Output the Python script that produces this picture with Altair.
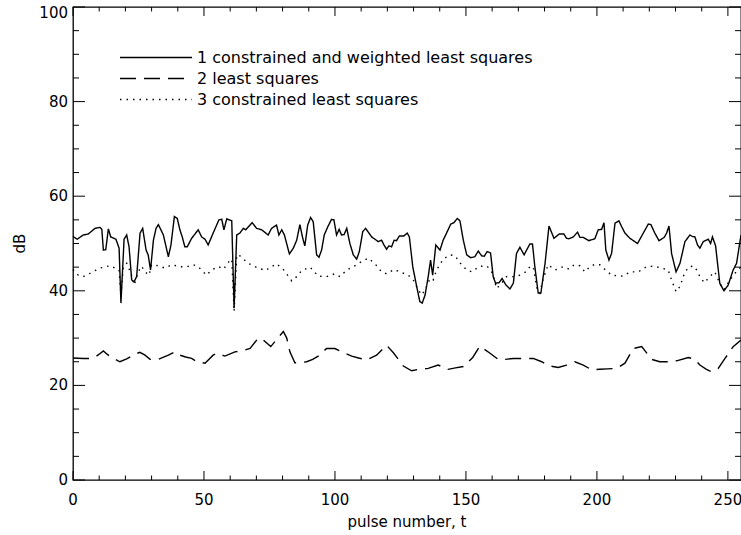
import altair as alt
import pandas as pd

labels = ["1 constrained and weighted least squares", "2 least squares", "3 constrained least squares"]

# series 1: constrained and weighted least squares
t1 = [0.0, 1.6, 3.9, 5.8, 8.4, 10.3, 11.0, 11.6, 12.5, 13.5, 14.4, 16.4, 17.6, 18.3, 19.5, 20.5, 21.4, 22.4, 23.3, 24.3,
      25.6, 26.6, 27.9, 28.7, 29.6, 30.7, 31.7, 32.6, 34.5, 36.4, 37.4, 38.7, 39.8, 40.8, 41.7, 42.7, 43.6, 45.3, 47.8, 49.1,
      50.4, 51.6, 53.5, 55.7, 56.8, 57.6, 58.7, 60.6, 61.0, 61.5, 62.5, 63.7, 65.0, 65.9, 68.4, 70.1, 72.0, 74.5, 75.8, 77.7,
      78.6, 79.7, 80.7, 82.6, 84.1, 85.4, 86.6, 87.7, 88.5, 89.6, 90.7, 91.7, 93.0, 93.9, 94.9, 95.9, 97.4, 98.7, 99.6, 100.6,
      101.6, 102.5, 103.5, 104.5, 105.7, 107.0, 108.3, 109.3, 110.6, 111.7, 114.0, 115.3, 116.5, 117.8, 118.7, 119.7, 120.6, 121.6, 122.6, 123.5,
      124.6, 126.3, 127.6, 128.4, 129.7, 131.2, 132.4, 133.3, 134.4, 135.6, 136.5, 137.3, 138.5, 140.1, 141.3, 142.6, 144.2, 145.4, 146.7, 147.7,
      149.0, 150.3, 151.8, 153.4, 154.7, 156.0, 157.0, 158.1, 159.4, 160.4, 161.3, 162.6, 163.8, 165.3, 166.8, 168.1, 169.3, 170.6, 172.2, 174.4,
      175.4, 176.3, 177.6, 178.6, 180.2, 181.7, 183.6, 185.6, 187.4, 188.4, 189.3, 191.0, 192.6, 193.5, 194.8, 196.9, 199.2, 200.5, 201.8, 202.7,
      203.4, 204.6, 205.6, 206.9, 208.4, 209.4, 210.7, 212.6, 215.5, 217.7, 219.6, 220.6, 222.1, 223.7, 225.7, 226.6, 227.5, 228.5, 230.2, 231.7,
      233.6, 235.5, 236.4, 237.4, 238.4, 239.3, 240.6, 242.5, 243.4, 244.1, 245.3, 246.9, 248.5, 250.1, 252.0, 253.3, 255.0]
db1 = [51.5, 50.9, 51.8, 52.0, 53.2, 53.4, 53.0, 48.6, 48.7, 53.1, 51.4, 50.9, 49.0, 37.4, 50.9, 51.8, 49.3, 42.3, 41.9, 43.0,
       52.2, 53.2, 48.6, 47.6, 44.4, 50.7, 53.2, 54.0, 51.8, 47.2, 49.7, 55.7, 55.3, 52.9, 51.4, 49.3, 49.3, 51.1, 52.9, 51.4,
       50.9, 49.7, 52.2, 55.0, 55.1, 52.9, 55.2, 54.8, 46.5, 36.3, 51.8, 52.2, 53.2, 52.9, 54.4, 53.2, 52.9, 51.8, 53.2, 53.9,
       51.8, 52.9, 51.8, 47.8, 49.0, 50.7, 54.0, 51.1, 49.5, 53.9, 55.5, 54.6, 47.6, 47.1, 48.6, 51.8, 53.7, 55.1, 55.0, 51.8,
       53.0, 51.8, 51.9, 53.2, 50.0, 47.6, 46.7, 48.3, 52.5, 53.2, 51.4, 50.9, 50.4, 50.7, 49.7, 48.8, 49.5, 49.3, 50.7, 50.6,
       51.6, 51.6, 52.2, 51.4, 45.1, 40.9, 37.7, 37.4, 39.1, 43.0, 46.5, 43.3, 49.7, 48.6, 50.7, 52.2, 54.1, 54.4, 55.3, 54.8,
       50.7, 47.6, 47.0, 47.2, 48.4, 47.4, 47.3, 48.3, 48.0, 43.0, 41.6, 41.7, 42.6, 41.2, 40.4, 41.6, 47.9, 49.2, 47.6, 49.9,
       49.9, 45.1, 39.5, 39.5, 45.8, 53.7, 51.1, 52.0, 52.0, 51.1, 51.0, 51.4, 52.4, 51.3, 51.3, 50.6, 51.0, 52.9, 53.0, 54.4,
       48.6, 46.5, 47.9, 54.3, 54.8, 53.6, 52.2, 51.1, 50.0, 52.2, 54.1, 54.0, 52.2, 50.6, 51.3, 52.2, 53.7, 47.9, 44.0, 45.8,
       50.4, 51.8, 51.5, 51.4, 49.7, 49.0, 50.4, 50.9, 50.0, 51.4, 49.5, 41.6, 40.0, 41.2, 44.4, 45.8, 51.8]

# series 2: least squares
t2 = [0.0, 3.9, 6.5, 8.5, 10.0, 11.6, 13.0, 14.7, 17.9, 20.5, 23.7, 25.5, 27.5, 29.4, 32.6, 36.4, 38.9, 40.8, 43.0, 45.3,
      47.2, 50.4, 53.5, 54.8, 58.0, 61.8, 64.5, 67.6, 70.7, 72.6, 75.5, 78.6, 80.3, 81.6, 82.8, 84.7, 87.0, 89.2, 91.5, 93.6,
      96.8, 100.0, 102.5, 106.4, 109.0, 112.1, 115.9, 119.7, 122.3, 126.1, 129.3, 132.0, 135.6, 139.4, 143.2, 146.0, 149.0, 152.6, 155.3, 159.2,
      162.3, 165.0, 168.1, 172.5, 175.7, 178.9, 182.1, 185.2, 188.4, 191.6, 194.8, 198.0, 201.1, 204.0, 207.5, 210.7, 213.9, 217.1, 220.9, 224.0,
      227.2, 230.4, 234.9, 237.4, 239.3, 241.8, 243.7, 246.3, 248.9, 252.0, 255.0]
db2 = [25.8, 25.7, 25.7, 26.0, 26.6, 27.3, 26.6, 25.9, 25.0, 25.6, 26.6, 27.0, 26.4, 25.5, 25.5, 26.4, 27.1, 26.4, 26.0, 25.7,
       25.0, 24.7, 26.4, 26.8, 26.2, 27.1, 27.3, 27.8, 30.0, 29.6, 28.2, 30.3, 31.4, 30.0, 27.1, 24.8, 24.8, 25.0, 25.5, 26.2,
       27.8, 27.8, 27.1, 26.2, 25.8, 25.4, 26.4, 28.5, 26.9, 24.1, 23.1, 23.4, 23.6, 24.3, 23.4, 23.7, 24.0, 25.9, 28.3, 26.8,
       25.5, 25.5, 25.7, 25.7, 25.7, 25.0, 24.1, 23.8, 24.3, 25.0, 24.3, 23.3, 23.4, 23.5, 23.6, 24.7, 27.8, 28.2, 25.5, 25.0,
       25.0, 25.2, 25.9, 25.5, 24.3, 23.4, 22.9, 23.6, 25.7, 28.2, 29.6]

# series 3: constrained least squares
t3 = [0.0, 0.8, 2.0, 3.9, 6.5, 10.3, 14.1, 17.6, 18.3, 19.2, 20.5, 22.1, 23.4, 24.9, 26.2, 27.5, 29.0, 30.0, 32.6, 35.1,
      37.7, 40.8, 43.5, 45.9, 47.8, 49.7, 51.0, 52.9, 55.5, 57.6, 58.7, 60.6, 61.5, 62.5, 63.7, 66.9, 70.7, 73.5, 75.8, 77.7,
      80.3, 82.2, 83.5, 85.4, 87.3, 90.5, 93.6, 96.8, 100.0, 101.9, 104.5, 107.0, 110.2, 112.7, 115.3, 117.8, 119.7, 122.6, 124.8, 128.0,
      129.9, 131.8, 133.1, 134.4, 136.3, 137.5, 138.8, 141.3, 143.9, 145.8, 148.3, 150.3, 152.2, 155.3, 158.1, 160.2, 161.7, 163.6, 165.5, 168.1,
      170.6, 172.9, 174.4, 175.7, 177.2, 178.2, 179.5, 181.4, 184.0, 187.2, 189.3, 191.3, 193.5, 195.4, 197.3, 199.2, 201.1, 203.1, 205.6, 207.5,
      210.0, 212.6, 215.8, 218.9, 221.8, 224.7, 227.2, 228.5, 230.2, 231.7, 233.6, 235.5, 237.4, 239.3, 241.0, 243.1, 245.0, 246.9, 248.5, 250.8,
      252.7, 255.0]
db3 = [44.5, 44.0, 43.3, 43.0, 43.7, 44.8, 45.3, 44.4, 39.0, 45.0, 45.8, 43.7, 41.2, 44.0, 45.2, 44.0, 43.3, 45.5, 45.3, 44.8,
       45.5, 45.1, 45.1, 45.5, 45.1, 44.0, 43.3, 44.4, 45.1, 44.6, 45.7, 46.7, 35.6, 47.6, 47.4, 45.8, 44.8, 44.3, 45.1, 45.7,
       44.5, 43.1, 42.1, 43.0, 44.3, 45.0, 43.1, 43.0, 43.6, 43.0, 44.4, 45.1, 46.2, 46.9, 45.7, 44.0, 43.6, 44.5, 44.0, 43.3,
       42.3, 40.2, 39.1, 40.2, 42.6, 42.3, 44.4, 46.7, 47.6, 47.4, 45.5, 44.4, 44.0, 45.2, 45.2, 43.7, 40.5, 41.6, 43.0, 43.0,
       43.3, 44.0, 45.1, 45.1, 40.2, 39.5, 42.6, 45.5, 44.4, 45.1, 44.6, 45.5, 45.3, 44.0, 45.1, 45.6, 45.5, 44.5, 43.3, 43.2,
       43.1, 44.0, 44.0, 45.1, 45.2, 44.8, 44.4, 42.3, 39.8, 40.9, 44.0, 45.2, 45.1, 43.0, 41.7, 43.0, 44.0, 41.6, 40.2, 42.3,
       43.7, 45.1]

x_major = [0, 50, 100, 150, 200, 250]
x_minor = [v for v in range(0, 251, 10) if v % 50]
y_major = [0, 20, 40, 60, 80, 100]
y_minor = [v for v in range(0, 101, 5) if v % 20]
x_title = "pulse number, t"
y_title = "dB"

df = pd.concat([
    pd.DataFrame({"t": t1, "db": db1, "series": labels[0]}),
    pd.DataFrame({"t": t2, "db": db2, "series": labels[1]}),
    pd.DataFrame({"t": t3, "db": db3, "series": labels[2]}),
], ignore_index=True)

W, H = 668, 473
FONT = "DejaVu Sans"
xs = alt.Scale(domain=[0, 255], nice=False, zero=False)
ys = alt.Scale(domain=[0, 100], nice=False, zero=False)


def xticks(values, y0, y1):
    return alt.Chart(pd.DataFrame({"v": values})).mark_rule(color="black", strokeWidth=1).encode(
        x=alt.X("v:Q", scale=xs, axis=None), y=alt.value(y0), y2=alt.value(y1))


def yticks(values, x0, x1):
    return alt.Chart(pd.DataFrame({"v": values})).mark_rule(color="black", strokeWidth=1).encode(
        y=alt.Y("v:Q", scale=ys, axis=None), x=alt.value(x0), x2=alt.value(x1))


tick_layers = [
    xticks(x_major, H, H - 9), xticks(x_minor, H, H - 4.5),
    xticks(x_major, 0, 9), xticks(x_minor, 0, 4.5),
    yticks(y_major, 0, 12), yticks(y_minor, 0, 6),
    yticks(y_major, W, W - 12), yticks(y_minor, W, W - 6),
]

# axis labels and titles as text marks
x_lab = alt.Chart(pd.DataFrame({"v": x_major, "lab": [str(v) for v in x_major]})).mark_text(
    font=FONT, fontSize=15, color="black", align="center", baseline="middle").encode(
    x=alt.X("v:Q", scale=xs, axis=None), y=alt.value(H + 20), text="lab:N")
y_lab = alt.Chart(pd.DataFrame({"v": y_major[:-1], "lab": [str(v) for v in y_major[:-1]]})).mark_text(
    font=FONT, fontSize=15, color="black", align="right", baseline="middle").encode(
    y=alt.Y("v:Q", scale=ys, axis=None), x=alt.value(-5), text="lab:N")
y_lab_top = alt.Chart(pd.DataFrame({"v": y_major[-1:], "lab": [str(v) for v in y_major[-1:]]})).mark_text(
    font=FONT, fontSize=15, color="black", align="right", baseline="top", dy=-1).encode(
    y=alt.Y("v:Q", scale=ys, axis=None), x=alt.value(-5), text="lab:N")
x_tt = alt.Chart(pd.DataFrame({"lab": [x_title]})).mark_text(
    font=FONT, fontSize=15, color="black", align="center", baseline="middle").encode(
    x=alt.value(W / 2), y=alt.value(H + 42), text="lab:N")
y_tt = alt.Chart(pd.DataFrame({"lab": [y_title]})).mark_text(
    font=FONT, fontSize=15, color="black", align="center", baseline="middle", angle=270).encode(
    x=alt.value(-53), y=alt.value(H / 2), text="lab:N")

lines = alt.Chart(df).mark_line(color="black", strokeWidth=1.4).encode(
    x=alt.X("t:Q", scale=xs, axis=None),
    y=alt.Y("db:Q", scale=ys, axis=None),
    strokeDash=alt.StrokeDash("series:N", scale=alt.Scale(domain=labels, range=[[1, 0], [16, 8], [1.5, 5]]),
                              legend=alt.Legend(orient="none", legendX=46, legendY=43, title=None,
                                                symbolType="stroke", symbolSize=5184, clipHeight=15,
                                                rowPadding=4, labelOffset=4, padding=0,
                                                symbolStrokeWidth=1.4, symbolStrokeColor="black",
                                                labelFont=FONT, labelFontSize=16, labelColor="black",
                                                labelLimit=800)),
)

chart = alt.layer(lines, *tick_layers, x_lab, y_lab, y_lab_top, x_tt, y_tt).properties(
    width=W, height=H,
    padding={"left": 73, "top": 7, "right": 0, "bottom": 55},
    autosize=alt.AutoSizeParams(type="none"),
    background="white",
).configure_view(stroke="black", strokeWidth=1.3)

chart.save("out.html", embed_options={"renderer": "svg", "actions": False})
